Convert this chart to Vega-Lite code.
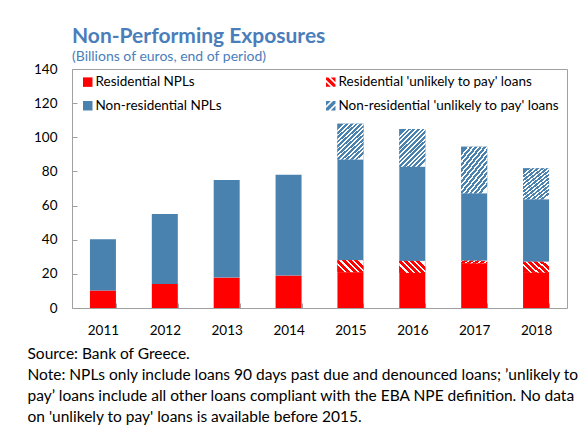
{
  "$schema": "https://vega.github.io/schema/vega-lite/v6.json",
  "autosize": "none",
  "width": 495,
  "height": 239,
  "padding": {"left": 72, "top": 69, "right": 15, "bottom": 117},
  "background": "white",
  "title": {
    "text": "Non-Performing Exposures",
    "subtitle": "(Billions of euros, end of period)",
    "anchor": "start",
    "frame": "group",
    "font": "Lato",
    "fontSize": 21,
    "fontWeight": "bold",
    "color": "#4A7EBB",
    "subtitleFont": "Lato",
    "subtitleFontSize": 14,
    "subtitleColor": "#4A7EBB",
    "subtitlePadding": 3,
    "offset": -2
  },
  "config": {
    "view": {"stroke": "#a0a0a0", "strokeWidth": 1},
    "font": "Lato"
  },
  "data": {
    "values": [
      {"year": "2011", "category": "Residential NPLs", "value": 10.2, "order": 1},
      {"year": "2011", "category": "Non-residential NPLs", "value": 30.0, "order": 3},
      {"year": "2012", "category": "Residential NPLs", "value": 14.0, "order": 1},
      {"year": "2012", "category": "Non-residential NPLs", "value": 41.0, "order": 3},
      {"year": "2013", "category": "Residential NPLs", "value": 17.8, "order": 1},
      {"year": "2013", "category": "Non-residential NPLs", "value": 57.2, "order": 3},
      {"year": "2014", "category": "Residential NPLs", "value": 19.0, "order": 1},
      {"year": "2014", "category": "Non-residential NPLs", "value": 59.0, "order": 3},
      {"year": "2015", "category": "Residential NPLs", "value": 21.0, "order": 1},
      {"year": "2015", "category": "Residential 'unlikely to pay' loans", "value": 7.0, "order": 2},
      {"year": "2015", "category": "Non-residential NPLs", "value": 59.0, "order": 3},
      {"year": "2015", "category": "Non-residential 'unlikely to pay' loans", "value": 21.0, "order": 4},
      {"year": "2016", "category": "Residential NPLs", "value": 20.6, "order": 1},
      {"year": "2016", "category": "Residential 'unlikely to pay' loans", "value": 7.0, "order": 2},
      {"year": "2016", "category": "Non-residential NPLs", "value": 55.1, "order": 3},
      {"year": "2016", "category": "Non-residential 'unlikely to pay' loans", "value": 22.1, "order": 4},
      {"year": "2017", "category": "Residential NPLs", "value": 26.2, "order": 1},
      {"year": "2017", "category": "Residential 'unlikely to pay' loans", "value": 1.5, "order": 2},
      {"year": "2017", "category": "Non-residential NPLs", "value": 39.5, "order": 3},
      {"year": "2017", "category": "Non-residential 'unlikely to pay' loans", "value": 27.3, "order": 4},
      {"year": "2018", "category": "Residential NPLs", "value": 20.7, "order": 1},
      {"year": "2018", "category": "Residential 'unlikely to pay' loans", "value": 6.4, "order": 2},
      {"year": "2018", "category": "Non-residential NPLs", "value": 36.6, "order": 3},
      {"year": "2018", "category": "Non-residential 'unlikely to pay' loans", "value": 18.1, "order": 4}
    ]
  },
  "transform": [
    {"stack": "value", "groupby": ["year"], "sort": [{"field": "order", "order": "ascending"}], "as": ["v0", "v1"]}
  ],
  "encoding": {
    "x": {
      "field": "year",
      "type": "ordinal",
      "scale": {"paddingInner": 0.58, "paddingOuter": 0.29},
      "axis": {
        "labelAngle": 0,
        "labelFont": "Lato",
        "labelFontSize": 13.5,
        "labelColor": "#000000",
        "labelPadding": 20,
        "domain": false,
        "ticks": true,
        "tickBand": "extent",
        "tickSize": -5,
        "tickColor": "#a0a0a0",
        "title": [
          "Source: Bank of Greece.",
          "Note: NPLs only include loans 90 days past due and denounced loans; ’unlikely to",
          "pay’ loans include all other loans compliant with the EBA NPE definition.  No data",
          "on 'unlikely to pay' loans is available before 2015."
        ],
        "titleFont": "Lato",
        "titleFontSize": 15.5,
        "titleFontWeight": "normal",
        "titleColor": "#000000",
        "titleAnchor": "start",
        "titleAlign": "left",
        "titleBaseline": "top",
        "titleLineHeight": 21.2,
        "titleX": -45,
        "titleY": 38
      }
    },
    "y": {
      "field": "v0",
      "type": "quantitative",
      "scale": {"domain": [0, 140], "nice": false},
      "axis": {
        "values": [0, 20, 40, 60, 80, 100, 120, 140],
        "grid": false,
        "domain": false,
        "tickSize": -5,
        "tickColor": "#a0a0a0",
        "labelFont": "Lato",
        "labelFontSize": 13.5,
        "labelColor": "#000000",
        "labelPadding": 20,
        "title": null
      }
    },
    "y2": {"field": "v1"}
  },
  "layer": [
    {
      "mark": {"type": "bar"},
      "encoding": {
        "color": {
          "field": "category",
          "type": "nominal",
          "scale": {
            "domain": ["Residential NPLs", "Residential 'unlikely to pay' loans", "Non-residential NPLs", "Non-residential 'unlikely to pay' loans"],
            "range": ["#ff0000", "#ff0000", "#4a82af", "#4a82af"]
          },
          "legend": {
            "title": null,
            "orient": "none",
            "legendX": 9,
            "legendY": 6,
            "direction": "horizontal",
            "columns": 2,
            "columnPadding": 102,
            "rowPadding": 9,
            "symbolSize": 90,
            "symbolStrokeWidth": 0,
            "symbolOpacity": 1,
            "labelFont": "Lato",
            "labelFontSize": 13.5,
            "labelColor": "#000000",
            "labelOffset": 1,
            "labelLimit": 400
          }
        }
      }
    },
    {
      "transform": [{"filter": "datum.order === 2"}],
      "mark": {"type": "bar", "fill": {"gradient": "linear", "x1": 0, "y1": 0.73, "x2": 1, "y2": 0.27, "stops": [
        {"offset": 0, "color": "#ff0000"}, {"offset": 0.13, "color": "#ff0000"}, {"offset": 0.13, "color": "#ffffff"}, {"offset": 0.2, "color": "#ffffff"},
        {"offset": 0.2, "color": "#ff0000"}, {"offset": 0.33, "color": "#ff0000"}, {"offset": 0.33, "color": "#ffffff"}, {"offset": 0.4, "color": "#ffffff"},
        {"offset": 0.4, "color": "#ff0000"}, {"offset": 0.53, "color": "#ff0000"}, {"offset": 0.53, "color": "#ffffff"}, {"offset": 0.6, "color": "#ffffff"},
        {"offset": 0.6, "color": "#ff0000"}, {"offset": 0.73, "color": "#ff0000"}, {"offset": 0.73, "color": "#ffffff"}, {"offset": 0.8, "color": "#ffffff"},
        {"offset": 0.8, "color": "#ff0000"}, {"offset": 0.93, "color": "#ff0000"}, {"offset": 0.93, "color": "#ffffff"}, {"offset": 1, "color": "#ffffff"}
      ]}},
      "encoding": {}
    },
    {
      "transform": [{"filter": "datum.order === 4"}],
      "mark": {"type": "bar", "fill": {"gradient": "linear", "x1": 0.16, "y1": 0, "x2": 0.84, "y2": 1, "stops": [
        {"offset": 0, "color": "#4a82af"}, {"offset": 0.05, "color": "#4a82af"}, {"offset": 0.05, "color": "#ffffff"}, {"offset": 0.0833, "color": "#ffffff"},
        {"offset": 0.0833, "color": "#4a82af"}, {"offset": 0.1333, "color": "#4a82af"}, {"offset": 0.1333, "color": "#ffffff"}, {"offset": 0.1667, "color": "#ffffff"},
        {"offset": 0.1667, "color": "#4a82af"}, {"offset": 0.2167, "color": "#4a82af"}, {"offset": 0.2167, "color": "#ffffff"}, {"offset": 0.25, "color": "#ffffff"},
        {"offset": 0.25, "color": "#4a82af"}, {"offset": 0.3, "color": "#4a82af"}, {"offset": 0.3, "color": "#ffffff"}, {"offset": 0.3333, "color": "#ffffff"},
        {"offset": 0.3333, "color": "#4a82af"}, {"offset": 0.3833, "color": "#4a82af"}, {"offset": 0.3833, "color": "#ffffff"}, {"offset": 0.4167, "color": "#ffffff"},
        {"offset": 0.4167, "color": "#4a82af"}, {"offset": 0.4667, "color": "#4a82af"}, {"offset": 0.4667, "color": "#ffffff"}, {"offset": 0.5, "color": "#ffffff"},
        {"offset": 0.5, "color": "#4a82af"}, {"offset": 0.55, "color": "#4a82af"}, {"offset": 0.55, "color": "#ffffff"}, {"offset": 0.5833, "color": "#ffffff"},
        {"offset": 0.5833, "color": "#4a82af"}, {"offset": 0.6333, "color": "#4a82af"}, {"offset": 0.6333, "color": "#ffffff"}, {"offset": 0.6667, "color": "#ffffff"},
        {"offset": 0.6667, "color": "#4a82af"}, {"offset": 0.7167, "color": "#4a82af"}, {"offset": 0.7167, "color": "#ffffff"}, {"offset": 0.75, "color": "#ffffff"},
        {"offset": 0.75, "color": "#4a82af"}, {"offset": 0.8, "color": "#4a82af"}, {"offset": 0.8, "color": "#ffffff"}, {"offset": 0.8333, "color": "#ffffff"},
        {"offset": 0.8333, "color": "#4a82af"}, {"offset": 0.8833, "color": "#4a82af"}, {"offset": 0.8833, "color": "#ffffff"}, {"offset": 0.9167, "color": "#ffffff"},
        {"offset": 0.9167, "color": "#4a82af"}, {"offset": 0.9667, "color": "#4a82af"}, {"offset": 0.9667, "color": "#ffffff"}, {"offset": 1, "color": "#ffffff"}
      ]}},
      "encoding": {}
    },
    {
      "mark": {"type": "point", "filled": true, "opacity": 0, "strokeWidth": 0},
      "encoding": {
        "y2": null,
        "color": {
          "field": "category",
          "type": "nominal",
          "scale": {
            "domain": ["Residential NPLs", "Residential 'unlikely to pay' loans", "Non-residential NPLs", "Non-residential 'unlikely to pay' loans"],
            "range": ["#ff0000", "#ff0000", "#4a82af", "#4a82af"]
          },
          "legend": {
            "title": null,
            "orient": "none",
            "legendX": 9,
            "legendY": 6,
            "direction": "horizontal",
            "columns": 2,
            "columnPadding": 102,
            "rowPadding": 9,
            "symbolSize": 90,
            "symbolStrokeWidth": 0,
            "symbolOpacity": 1,
            "labelFont": "Lato",
            "labelFontSize": 13.5,
            "labelColor": "#000000",
            "labelOffset": 1,
            "labelLimit": 400
          }
        },
        "shape": {
          "field": "category",
          "type": "nominal",
          "scale": {
            "domain": ["Residential NPLs", "Residential 'unlikely to pay' loans", "Non-residential NPLs", "Non-residential 'unlikely to pay' loans"],
            "range": [
              "square",
              "M-1,0L-1,1L0,1Z M-1,-1L-0.5,-1L1,0.5L1,1L0.5,1L-1,-0.5Z M0,-1L1,-1L1,0Z",
              "square",
              "M1,0L1,1L0,1Z M1,-1L0.5,-1L-1,0.5L-1,1L-0.5,1L1,-0.5Z M0,-1L-1,-1L-1,0Z"
            ]
          },
          "legend": {
            "title": null,
            "orient": "none",
            "legendX": 9,
            "legendY": 6,
            "direction": "horizontal",
            "columns": 2,
            "columnPadding": 102,
            "rowPadding": 9,
            "symbolSize": 90,
            "symbolStrokeWidth": 0,
            "symbolOpacity": 1,
            "labelFont": "Lato",
            "labelFontSize": 13.5,
            "labelColor": "#000000",
            "labelOffset": 1,
            "labelLimit": 400
          }
        }
      }
    }
  ]
}
